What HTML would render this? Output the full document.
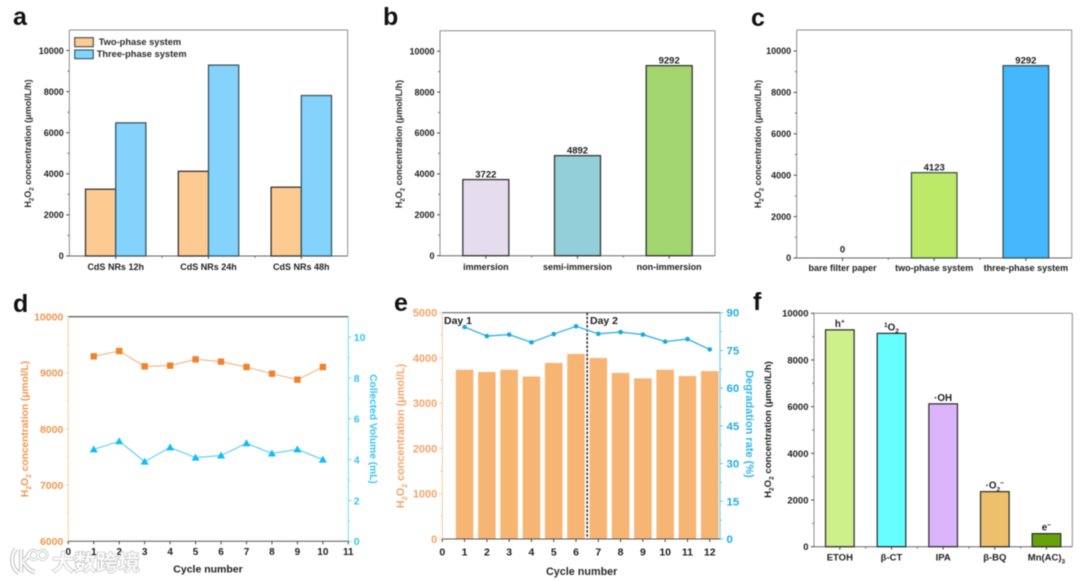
<!DOCTYPE html>
<html lang="zh">
<head>
<meta charset="utf-8">
<title>H2O2 concentration charts</title>
<style>
html,body{margin:0;padding:0;background:#fff;width:1080px;height:581px;overflow:hidden}
svg{display:block;filter:blur(.42px)}
text{font-family:"Liberation Sans","Noto Sans CJK SC",sans-serif;font-weight:700}
</style>
</head>
<body>
<svg id="figure" xmlns="http://www.w3.org/2000/svg" width="1080" height="581" viewBox="0 0 1080 581"></svg>
<script>
// Panel a
const aCategories = ['CdS NRs 12h', 'CdS NRs 24h', 'CdS NRs 48h'];
const aTwoPhase = [3250, 4123, 3350];
const aThreePhase = [6480, 9292, 7810];
const aYTicks = [0, 2000, 4000, 6000, 8000, 10000];
// Panel b
const bCategories = ['immersion', 'semi-immersion', 'non-immersion'];
const bValues = [3722, 4892, 9292];
const bYTicks = [0, 2000, 4000, 6000, 8000, 10000];
// Panel c
const cCategories = ['bare filter paper', 'two-phase system', 'three-phase system'];
const cValues = [0, 4123, 9292];
const cYTicks = [0, 2000, 4000, 6000, 8000, 10000];
// Panel d
const dCycles = [1, 2, 3, 4, 5, 6, 7, 8, 9, 10];
const dConcentration = [9294, 9389, 9116, 9128, 9240, 9199, 9104, 8985, 8878, 9104];
const dVolume = [4.5, 4.9, 3.9, 4.6, 4.1, 4.2, 4.8, 4.3, 4.5, 4.0];
const dXTicks = [0, 1, 2, 3, 4, 5, 6, 7, 8, 9, 10, 11];
const dYLeftTicks = [6000, 7000, 8000, 9000, 10000];
const dYRightTicks = [0, 2, 4, 6, 8, 10];
// Panel e
const eCycles = [1, 2, 3, 4, 5, 6, 7, 8, 9, 10, 11, 12];
const eConcentration = [3740, 3690, 3740, 3590, 3890, 4090, 4000, 3670, 3550, 3740, 3600, 3710];
const eDegradation = [84.3, 80.7, 81.3, 78.2, 81.5, 84.6, 81.6, 82.3, 81.3, 78.5, 79.5, 75.4];
const eXTicks = [0, 1, 2, 3, 4, 5, 6, 7, 8, 9, 10, 11, 12];
const eYLeftTicks = [0, 1000, 2000, 3000, 4000, 5000];
const eYRightTicks = [0, 15, 30, 45, 60, 75, 90];
// Panel f
const fCategories = ['ETOH', '\u03b2-CT', 'IPA', '\u03b2-BQ', 'Mn(AC)_3'];
const fValues = [9290, 9140, 6120, 2360, 560];
const fSpecies = ['h^+', '^1O_2', '\u00b7OH', '\u00b7O_2^\u2212', 'e^\u2212'];
const fYTicks = [0, 2000, 4000, 6000, 8000, 10000];

const NS = 'http://www.w3.org/2000/svg';
const root = document.getElementById('figure');
const linear = (d0, d1, r0, r1) => v => r0 + (v - d0) * (r1 - r0) / (d1 - d0);

function mk(parent, tag, props, name) {
  const el = document.createElementNS(NS, tag);
  for (const k in props) el.setAttribute(k, props[k]);
  
  
  parent.appendChild(el);
  return el;
}
function line(p, x1, y1, x2, y2, stroke, w, name) {
  return mk(p, 'line', {x1, y1, x2, y2, stroke, 'stroke-width': w}, name);
}
function label(p, x, y, str, size, fill, anchor, name, rotate) {
  const props = {x, y, fill, 'font-size': size, 'text-anchor': anchor};
  if (rotate) props.transform = 'rotate(' + rotate + ' ' + x + ' ' + y + ')';
  const t = mk(p, 'text', props, name);
  const parts = String(str).split(/([_^][^_^ ])/);
  let shift = 0;
  parts.forEach(part => {
    if (!part) return;
    const isSub = part[0] === '_', isSup = part[0] === '^';
    const span = document.createElementNS(NS, 'tspan');
    const target = isSub ? size * 0.28 : isSup ? -size * 0.36 : 0;
    const dy = target - shift;
    if (dy) span.setAttribute('dy', dy);
    shift = target;
    if (isSub || isSup) span.setAttribute('font-size', size * 0.68);
    span.textContent = (isSub || isSup) ? part.slice(1) : part;
    
    
    t.appendChild(span);
  });
  return t;
}
function midpoints(ticks) {
  const out = [];
  for (let i = 0; i < ticks.length - 1; i++) out.push((ticks[i] + ticks[i + 1]) / 2);
  return out;
}
// Standard bar panel frame with grey box and category axis
function boxFrame(p, box, ticks, y, cats, catY, size, catSize) {
  const col = '#8c8c8c';
  line(p, box.l, box.t, box.r, box.t, col, 1, 'top-border');
  line(p, box.r, box.t, box.r, box.b, col, 1, 'right-border');
  line(p, box.l, box.t, box.l, box.b, col, 1, 'y-axis');
  line(p, box.l, box.b, box.r, box.b, '#666', 1, 'x-axis');
  ticks.forEach(v => {
    line(p, box.l - 3, y(v), box.l, y(v), '#444', 1, 'y-tick');
    label(p, box.l - 5.5, y(v) + size * 0.36, v, size, '#1e1e1e', 'end', 'y-tick-label');
  });
  midpoints(ticks).forEach(v => line(p, box.l - 1.8, y(v), box.l, y(v), '#666', 1, 'y-minor-tick'));
  const x = linear(0.5, cats.length + 0.5, box.l, box.r);
  cats.forEach((c, i) => {
    line(p, x(i + 1), box.b, x(i + 1), box.b + 3, '#444', 1, 'x-tick');
    if (i) line(p, x(i + 0.5), box.b, x(i + 0.5), box.b + 1.8, '#666', 1, 'x-minor-tick');
    label(p, x(i + 1), catY, c, catSize, '#1e1e1e', 'middle', 'category-label');
  });
  return x;
}
function bar(p, cx, w, y, v, base, fill, stroke, name) {
  return mk(p, 'rect', {x: cx - w / 2, y: y(v), width: w, height: Math.max(0, y(base) - y(v)), fill, stroke, 'stroke-width': 1.25}, name);
}

const YTITLE = 'H_2O_2 concentration (\u03bcmol/L/h)';

// ---------- Panel a
(function () {
  const p = mk(root, 'g', {}, 'panel-a');
  label(p, 13, 25, 'a', 25, '#111', 'start', 'panel-label-a');
  const box = {l: 69.3, r: 347.7, t: 30, b: 256};
  const y = linear(0, 11000, box.b, box.t);
  const x = boxFrame(p, box, aYTicks, y, aCategories, 270, 9, 9);
  const w = 30.2;
  aCategories.forEach((c, i) => {
    bar(p, x(i + 1) - w / 2, w, y, aTwoPhase[i], 0, '#fdcb92', '#2c2c2c', 'bar-two-phase');
    bar(p, x(i + 1) + w / 2, w, y, aThreePhase[i], 0, '#84d3fd', '#34505e', 'bar-three-phase');
  });
  mk(p, 'rect', {x: 74.7, y: 37.7, width: 18.6, height: 9, fill: '#fdcb92', stroke: '#444', 'stroke-width': 1.1}, 'legend-swatch-two-phase');
  label(p, 98.7, 45.2, 'Two-phase system', 9.3, '#2a2a2a', 'start', 'legend-entry-two-phase');
  mk(p, 'rect', {x: 74.7, y: 50, width: 18.6, height: 8.7, fill: '#84d3fd', stroke: '#34505e', 'stroke-width': 1.1}, 'legend-swatch-three-phase');
  label(p, 96.7, 57, 'Three-phase system', 9.3, '#2a2a2a', 'start', 'legend-entry-three-phase');
  label(p, 31, 143.5, YTITLE, 9, '#2a2a2a', 'middle', 'y-axis-title', -90);
})();

// ---------- Panel b
(function () {
  const p = mk(root, 'g', {}, 'panel-b');
  label(p, 383, 25, 'b', 25, '#111', 'start', 'panel-label-b');
  const box = {l: 440, r: 715, t: 30.7, b: 255.7};
  const y = linear(0, 11000, box.b, box.t);
  const x = boxFrame(p, box, bYTicks, y, bCategories, 270, 9, 9);
  const fills = ['#e5dcee', '#92cfd8', '#a3d56f'];
  bValues.forEach((v, i) => {
    bar(p, x(i + 1), 46, y, v, 0, fills[i], '#2e2e2e', 'bar-' + bCategories[i]);
    label(p, x(i + 1), y(v) - 2.2, v, 9.5, '#1c1c1c', 'middle', 'value-label');
  });
  label(p, 402, 144, YTITLE, 9, '#2a2a2a', 'middle', 'y-axis-title', -90);
})();

// ---------- Panel c
(function () {
  const p = mk(root, 'g', {}, 'panel-c');
  label(p, 751, 26, 'c', 25, '#111', 'start', 'panel-label-c');
  const box = {l: 796.7, r: 1071.7, t: 30, b: 258};
  const y = linear(0, 11014, box.b, box.t);
  const x = boxFrame(p, box, cYTicks, y, cCategories, 271, 9, 9);
  const fills = ['#ffffff', '#bcea68', '#45b7fd'];
  cValues.forEach((v, i) => {
    if (v > 0) bar(p, x(i + 1), 45.6, y, v, 0, fills[i], '#34504a', 'bar-' + cCategories[i].replace(/ /g, '-'));
    label(p, x(i + 1), y(v) - (v > 0 ? 2.2 : 5.5), v, 9.5, '#1c1c1c', 'middle', 'value-label');
  });
  label(p, 761, 144, YTITLE, 9, '#2a2a2a', 'middle', 'y-axis-title', -90);
})();

// ---------- Panel d
(function () {
  const p = mk(root, 'g', {}, 'panel-d');
  label(p, 13, 312, 'd', 25, '#111', 'start', 'panel-label-d');
  const box = {l: 68.3, r: 348.3, t: 316.7, b: 541.3};
  const x = linear(0, 11, box.l, box.r);
  const yL = linear(6000, 10000, box.b, box.t);
  const yR = linear(0, 11, box.b, box.t);
  const orange = '#f0954e', blue = '#36c3f5';
  line(p, box.l, box.t, box.r, box.t, '#444', 1.2, 'top-border');
  line(p, box.l, box.t, box.l, box.b, '#f6cf9f', 1, 'y-axis-left');
  line(p, box.r, box.t, box.r, box.b, '#6fdcfb', 1, 'y-axis-right');
  line(p, box.l, box.b, box.r, box.b, '#555', 1, 'x-axis');
  dYLeftTicks.forEach(v => {
    line(p, box.l - 3, yL(v), box.l, yL(v), '#f6cf9f', 1, 'y-left-tick');
    label(p, box.l - 5, yL(v) + 3.8, v, 10.5, orange, 'end', 'y-left-tick-label');
  });
  midpoints(dYLeftTicks).forEach(v => line(p, box.l - 1.8, yL(v), box.l, yL(v), '#f6cf9f', 1, 'y-left-minor-tick'));
  dYRightTicks.forEach(v => {
    line(p, box.r, yR(v), box.r + 3, yR(v), '#6fdcfb', 1, 'y-right-tick');
    label(p, box.r + 5.5, yR(v) + 3.8, v, 10.5, blue, 'start', 'y-right-tick-label');
  });
  midpoints(dYRightTicks).forEach(v => line(p, box.r, yR(v), box.r + 1.8, yR(v), '#6fdcfb', 1, 'y-right-minor-tick'));
  dXTicks.forEach(v => {
    line(p, x(v), box.b, x(v), box.b + 3, '#444', 1, 'x-tick');
    label(p, x(v), 555, v, 10, '#1e1e1e', 'middle', 'x-tick-label');
  });
  mk(p, 'polyline', {points: dCycles.map((c, i) => x(c) + ',' + yL(dConcentration[i])).join(' '), fill: 'none', stroke: '#f7ab74', 'stroke-width': 1}, 'concentration-line');
  mk(p, 'polyline', {points: dCycles.map((c, i) => x(c) + ',' + yR(dVolume[i])).join(' '), fill: 'none', stroke: '#46c9f6', 'stroke-width': 1}, 'volume-line');
  dCycles.forEach((c, i) => {
    mk(p, 'rect', {x: x(c) - 3.2, y: yL(dConcentration[i]) - 3.2, width: 6.4, height: 6.4, fill: '#f0822c'}, 'concentration-point');
    const cx = x(c), cy = yR(dVolume[i]);
    mk(p, 'path', {d: 'M' + (cx - 4) + ' ' + (cy + 3) + 'L' + (cx + 4) + ' ' + (cy + 3) + 'L' + cx + ' ' + (cy - 4) + 'Z', fill: '#10bcf7'}, 'volume-point');
  });
  label(p, 208, 572.7, 'Cycle number', 10.5, '#1e1e1e', 'middle', 'x-axis-title');
  label(p, 28, 429, 'H_2O_2 concentration (\u03bcmol/L)', 10.2, orange, 'middle', 'y-axis-left-title', -90);
  label(p, 370, 429, 'Collected Volume (mL)', 10.2, blue, 'middle', 'y-axis-right-title', 90);
})();

// ---------- Panel e
(function () {
  const p = mk(root, 'g', {}, 'panel-e');
  label(p, 394, 311, 'e', 25, '#111', 'start', 'panel-label-e');
  const box = {l: 442.3, r: 720, t: 312.7, b: 539};
  const x = linear(0, 12.46, box.l, box.r);
  const yL = linear(0, 5000, box.b, box.t);
  const yR = linear(0, 90, box.b, box.t);
  const orange = '#f3a468', blue = '#22ade2';
  eCycles.forEach((c, i) => {
    mk(p, 'rect', {x: x(c) - 8.8, y: yL(eConcentration[i]), width: 17.6, height: yL(0) - yL(eConcentration[i]), fill: '#f7b574'}, 'bar-cycle-' + c);
  });
  line(p, box.l, box.t, box.r, box.t, '#666', 1.2, 'top-border');
  line(p, box.l, box.t, box.l, box.b, '#f6c79c', 1, 'y-axis-left');
  line(p, box.r, box.t, box.r, box.b, '#5cc8ec', 1, 'y-axis-right');
  line(p, box.l, box.b, box.r, box.b, '#555', 1, 'x-axis');
  eYLeftTicks.forEach(v => {
    line(p, box.l - 3, yL(v), box.l, yL(v), '#f6c79c', 1, 'y-left-tick');
    label(p, box.l - 5, yL(v) + 4, v, 11, orange, 'end', 'y-left-tick-label');
  });
  midpoints(eYLeftTicks).forEach(v => line(p, box.l - 1.8, yL(v), box.l, yL(v), '#f6c79c', 1, 'y-left-minor-tick'));
  eYRightTicks.forEach(v => {
    line(p, box.r, yR(v), box.r + 3, yR(v), '#5cc8ec', 1, 'y-right-tick');
    label(p, box.r + 6.5, yR(v) + 4, v, 11.4, blue, 'start', 'y-right-tick-label');
  });
  midpoints(eYRightTicks).forEach(v => line(p, box.r, yR(v), box.r + 1.8, yR(v), '#5cc8ec', 1, 'y-right-minor-tick'));
  eXTicks.forEach(v => {
    line(p, x(v), box.b, x(v), box.b + 3, '#444', 1, 'x-tick');
    label(p, x(v), 555.7, v, 10.5, '#1e1e1e', 'middle', 'x-tick-label');
  });
  mk(p, 'line', {x1: x(6.5), y1: box.t, x2: x(6.5), y2: box.b, stroke: '#222', 'stroke-width': 1.5, 'stroke-dasharray': '2.5 1.6'}, 'day-divider');
  mk(p, 'polyline', {points: eCycles.map((c, i) => x(c) + ',' + yR(eDegradation[i])).join(' '), fill: 'none', stroke: '#2fb2e4', 'stroke-width': 1.3}, 'degradation-line');
  eCycles.forEach((c, i) => mk(p, 'circle', {cx: x(c), cy: yR(eDegradation[i]), r: 2.3, fill: '#1aa8de'}, 'degradation-point'));
  label(p, 444, 324, 'Day 1', 10.5, '#1e1e1e', 'start', 'day-1-label');
  label(p, 590, 324, 'Day 2', 10.5, '#1e1e1e', 'start', 'day-2-label');
  label(p, 581.7, 575, 'Cycle number', 10.8, '#2a2a2a', 'middle', 'x-axis-title');
  label(p, 404, 436, 'H_2O_2 concentration (\u03bcmol/L)', 10.8, orange, 'middle', 'y-axis-left-title', -90);
  label(p, 746, 424, 'Degradation rate (%)', 11, '#35b6e6', 'middle', 'y-axis-right-title', 90);
})();

// ---------- Panel f
(function () {
  const p = mk(root, 'g', {}, 'panel-f');
  label(p, 753, 310, 'f', 25, '#111', 'start', 'panel-label-f');
  const box = {l: 814, r: 1072.3, t: 313.3, b: 546.7};
  const y = linear(0, 10000, box.b, box.t);
  const x = boxFrame(p, box, fYTicks, y, fCategories, 560.7, 9.5, 9.5);
  const fills = ['#cdf08a', '#66ffff', '#dcb4fc', '#ecc06c', '#66a30a'];
  fValues.forEach((v, i) => {
    bar(p, x(i + 1), 28.6, y, v, 0, fills[i], '#2e2e2e', 'bar-' + (i + 1));
    label(p, x(i + 1), y(v) - 3, fSpecies[i], 9.8, '#1c1c1c', 'middle', 'species-label');
  });
  label(p, 771, 429.5, YTITLE, 9.6, '#1c1c1c', 'middle', 'y-axis-title', -90);
})();

// ---------- Watermark
(function () {
  const p = mk(root, 'g', {}, 'watermark');
  const c = '#fbfbfb';
  const s = '#b4b4b4';
  [[s, 4.2], [c, 2.6]].forEach(st => {
    mk(p, 'path', {d: 'M16 549C10 556 11 568 19 573M21 549V573M23 561C26 559 28 556 30 552M23 562C26 567 30 571 35 572', fill: 'none', stroke: st[0], 'stroke-width': st[1]}, 'watermark-logo-mark');
    mk(p, 'circle', {cx: 33.5, cy: 555, r: 4.5, fill: 'none', stroke: st[0], 'stroke-width': st[1] * 0.7}, 'watermark-logo-ring');
    mk(p, 'circle', {cx: 42.5, cy: 555, r: 4.5, fill: 'none', stroke: st[0], 'stroke-width': st[1] * 0.7}, 'watermark-logo-ring');
  });
  const t = mk(p, 'text', {x: 52, y: 570.5, 'font-size': 22, fill: c, stroke: s, 'stroke-width': 1.1, 'paint-order': 'stroke'}, 'watermark-text');
  t.textContent = '\u5927\u6570\u8de8\u5883';
})();
</script>
</body>
</html>
